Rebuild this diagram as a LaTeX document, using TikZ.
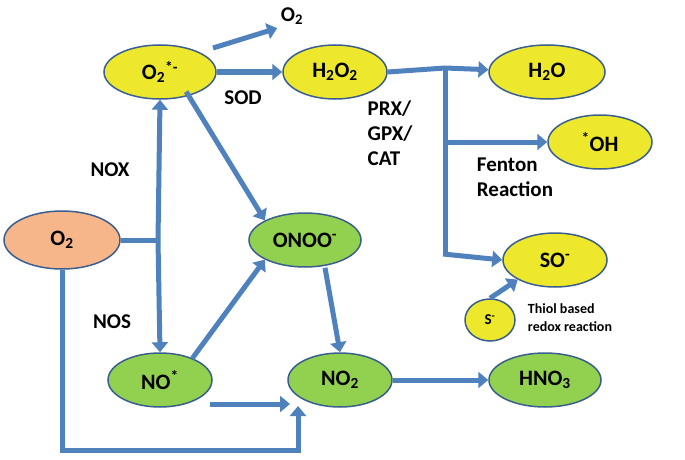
\documentclass[tikz,border=0pt]{standalone}
\usepackage{fontspec}
\setmainfont{Carlito}
\usetikzlibrary{arrows.meta,calc,positioning,shapes.geometric}
\definecolor{lineblue}{HTML}{4F81BD}
\definecolor{edgeblue}{HTML}{3A5F8F}
\definecolor{ylw}{HTML}{EEE82C}
\definecolor{grn}{HTML}{92D050}
\definecolor{org}{HTML}{F7B58A}
\newcommand{\sub}[1]{\textsubscript{#1}}
\newcommand{\sups}[1]{\textsuperscript{#1}}
\begin{document}
\begin{tikzpicture}[x=1pt,y=-1pt,
                    thick,
                    mol/.style={ellipse,draw=edgeblue,line width=1.5pt,minimum width=112pt,minimum height=54pt,inner sep=0pt,font=\fontsize{22}{25}\selectfont\bfseries},
                    yel/.style={mol,fill=ylw},
                    gre/.style={mol,fill=grn},
                    lab/.style={font=\fontsize{21}{25}\selectfont\bfseries,align=left},
                    arr/.style={draw=lineblue,line width=5pt,-{Triangle[length=10pt,width=16pt]}},
                    ln/.style={draw=lineblue,line width=5pt}]
  \useasboundingbox (0,0) rectangle (685,460);

  \node[yel] (sup) at (160,72) {O\sub{2}\sups{*-}};
  \node[yel,minimum width=104pt] (hp) at (335,72) {H\sub{2}O\sub{2}};
  \node[yel,minimum width=116pt] (wat) at (547,72) {H\sub{2}O};
  \node[yel,minimum width=104pt] (oh) at (600,142) {\sups{*}OH};
  \node[yel,minimum width=104pt] (so) at (555,260) {SO\sups{-}};
  \node[yel,minimum width=50pt,minimum height=42pt,font=\fontsize{15}{17}\selectfont\bfseries] (s) at (490,320) {S\sups{-}};
  \node[mol,fill=org,minimum width=116pt,minimum height=58pt] (ox) at (62,240) {O\sub{2}};
  \node[gre] (pn) at (305,240) {ONOO\sups{-}};
  \node[gre,minimum width=104pt] (no) at (160,380) {NO\sups{*}};
  \node[gre,minimum width=104pt] (ntwo) at (340,380) {NO\sub{2}};
  \node[gre] (hno) at (545,380) {HNO\sub{3}};

  \node[lab] (otop) at (292,16) {O\sub{2}};
  \node[lab] at (243,98) {SOD};
  \node[lab] at (390,133) {PRX/\\GPX/\\CAT};
  \node[lab] at (110,170) {NOX};
  \node[lab] at (112,322) {NOS};
  \node[lab] at (515,177) {Fenton\\Reaction};
  \node[lab,font=\fontsize{14}{18}\selectfont\bfseries] at (570,318) {Thiol based\\redox reaction};

  % superoxide branch
  \path[arr] (213,48) -- (otop.south west);
  \path[arr] (sup) -- (hp);
  \path[arr] (sup.south east) ++(-14,0) -- (pn.north west);
  \coordinate (bx) at (445,68);
  \path[ln] (hp.east) -- (bx);
  \path[arr] (bx) -- (wat);
  \path[ln] (bx) -- (445,256);
  \path[arr] (445,142) -- (oh.west);
  \path[arr] (443,254) -- (so.west);
  \path[arr] (s.north) -- (so.south west);

  % nitrogen branch
  \path[arr] (158,240) -- (sup.south);
  \path[arr] (158,240) -- (no.north);
  \path[ln] (ox.east) -- (160,240);
  \path[arr] (ox.south) -- (62,450) -- (298,450) -- (298,406);
  \path[arr] (no.north east) ++(-5,-2) -- (pn.south west);
  \path[arr] (pn.south) ++(20,0) -- (ntwo.north);
  \path[arr] (210,404) -- (290,404);
  \path[arr] (ntwo) -- (hno);
\end{tikzpicture}
\end{document}
